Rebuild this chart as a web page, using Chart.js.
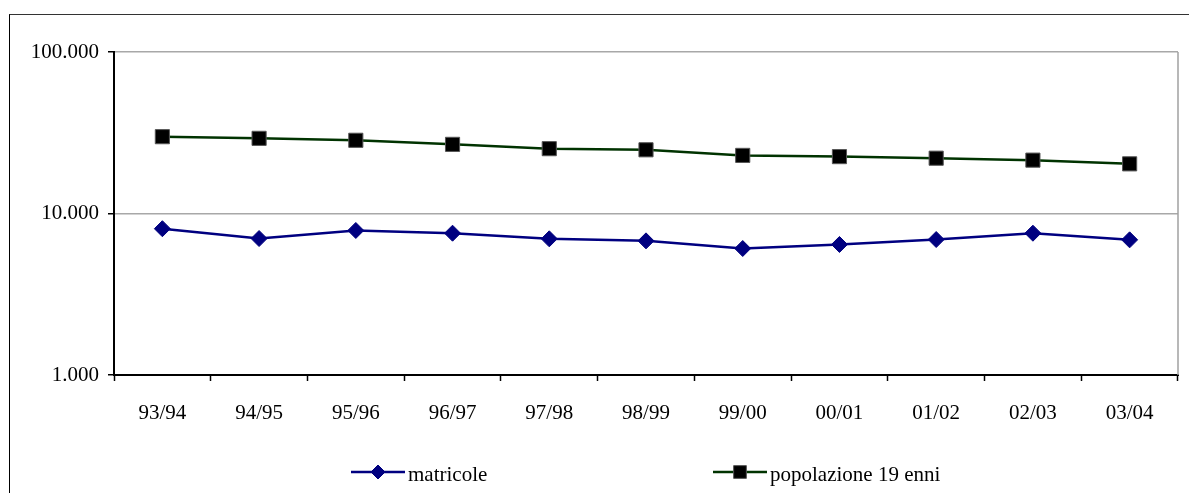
<!DOCTYPE html>
<html>
<head>
<meta charset="utf-8">
<script src="https://cdn.jsdelivr.net/npm/chart.js@4/dist/chart.umd.min.js"></script>
<style>
  html, body { margin: 0; padding: 0; background: #fff; }
  #wrap { position: relative; width: 1189px; height: 493px; overflow: hidden; }
  #frame { position: absolute; left: 9px; top: 14px; width: 1200px; height: 500px;
           border-top: 1.5px solid #333; border-left: 1.5px solid #000; }
  #chart { position: absolute; left: 0; top: 0; }
</style>
</head>
<body>
<div id="wrap">
  <div id="frame"></div>
  <canvas id="chart" width="1189" height="493"></canvas>
</div>
<script>
let labels = ["93/94", "94/95", "95/96", "96/97", "97/98", "98/99", "99/00", "00/01", "01/02", "02/03", "03/04"];
let matricole = [8050, 7000, 7850, 7550, 6970, 6770, 6070, 6430, 6900, 7550, 6870];
let popolazione = [29900, 29200, 28400, 26800, 25200, 24800, 22900, 22500, 22000, 21400, 20300];
let yTicks = [1000, 10000, 100000];

Chart.defaults.font.family = "'Liberation Serif', 'Times New Roman', serif";
Chart.defaults.font.size = 21;
Chart.defaults.color = "#000";

const fmt = v => String(v).replace(/\B(?=(\d{3})+(?!\d))/g, ".");

// gray border on the right side of the plot area
const plotBorder = {
  id: "plotBorder",
  beforeDatasetsDraw(chart) {
    const a = chart.chartArea;
    const c = chart.ctx;
    c.save();
    c.strokeStyle = "#a0a0a0";
    c.lineWidth = 1.5;
    c.beginPath();
    c.moveTo(a.right, a.top);
    c.lineTo(a.right, a.bottom);
    c.stroke();
    c.restore();
  }
};

// legend drawn at the bottom like the original
const bottomLegend = {
  id: "bottomLegend",
  afterDraw(chart) {
    const c = chart.ctx;
    const spots = [351, 713];
    const y = 472;
    chart.data.datasets.forEach((ds, i) => {
      const x = spots[i];
      c.save();
      c.strokeStyle = ds.borderColor;
      c.lineWidth = 2.5;
      c.beginPath();
      c.moveTo(x, y);
      c.lineTo(x + 54, y);
      c.stroke();
      c.fillStyle = ds.pointBackgroundColor;
      c.strokeStyle = ds.pointBorderColor;
      c.lineWidth = 1;
      Chart.helpers.drawPoint(c, {
        pointStyle: ds.pointStyle,
        radius: ds.legendRadius,
        rotation: 0,
        borderWidth: 1
      }, x + 27, y);
      c.fillStyle = "#000";
      c.font = "21px 'Liberation Serif', serif";
      c.textBaseline = "middle";
      c.fillText(ds.label, x + 57, y + 3);
      c.restore();
    });
  }
};

new Chart(document.getElementById("chart"), {
  type: "line",
  data: {
    labels: labels,
    datasets: [
      {
        label: "matricole",
        data: matricole,
        borderColor: "#000080",
        borderWidth: 2.5,
        pointStyle: "rectRot",
        pointRadius: 8,
        legendRadius: 7,
        pointBackgroundColor: "#000080",
        pointBorderColor: "#000080",
        pointBorderWidth: 1,
        tension: 0
      },
      {
        label: "popolazione 19 enni",
        data: popolazione,
        borderColor: "#003300",
        borderWidth: 2.5,
        pointStyle: "rect",
        pointRadius: 10,
        legendRadius: 9,
        pointBackgroundColor: "#000",
        pointBorderColor: "#555",
        pointBorderWidth: 1,
        tension: 0
      }
    ]
  },
  options: {
    responsive: false,
    animation: false,
    layout: { padding: { left: 0, top: 52, right: 6, bottom: 0 } },
    plugins: {
      legend: { display: false },
      tooltip: { enabled: false }
    },
    scales: {
      x: {
        type: "category",
        offset: true,
        grid: {
          offset: true,
          drawOnChartArea: false,
          tickLength: 6,
          tickColor: "#000",
          tickWidth: 1.5
        },
        border: { color: "#000", width: 2 },
        ticks: { padding: 20, maxRotation: 0, autoSkip: false },
        afterFit(scale) { scale.height = 118; }
      },
      y: {
        type: "logarithmic",
        min: 1000,
        max: 100000,
        afterBuildTicks(scale) {
          scale.ticks = yTicks.map(v => ({ value: v }));
        },
        grid: {
          color: ctx => ctx.tick && ctx.tick.value === 1000 ? "rgba(0,0,0,0)" : "#a8a8a8",
          lineWidth: 1.5,
          tickLength: 6,
          tickColor: "#000",
          tickWidth: 1.5
        },
        border: { color: "#000", width: 2 },
        ticks: {
          padding: 9,
          callback: v => fmt(v)
        },
        afterFit(scale) { scale.width = 114; }
      }
    }
  },
  plugins: [plotBorder, bottomLegend]
});
</script>
</body>
</html>
